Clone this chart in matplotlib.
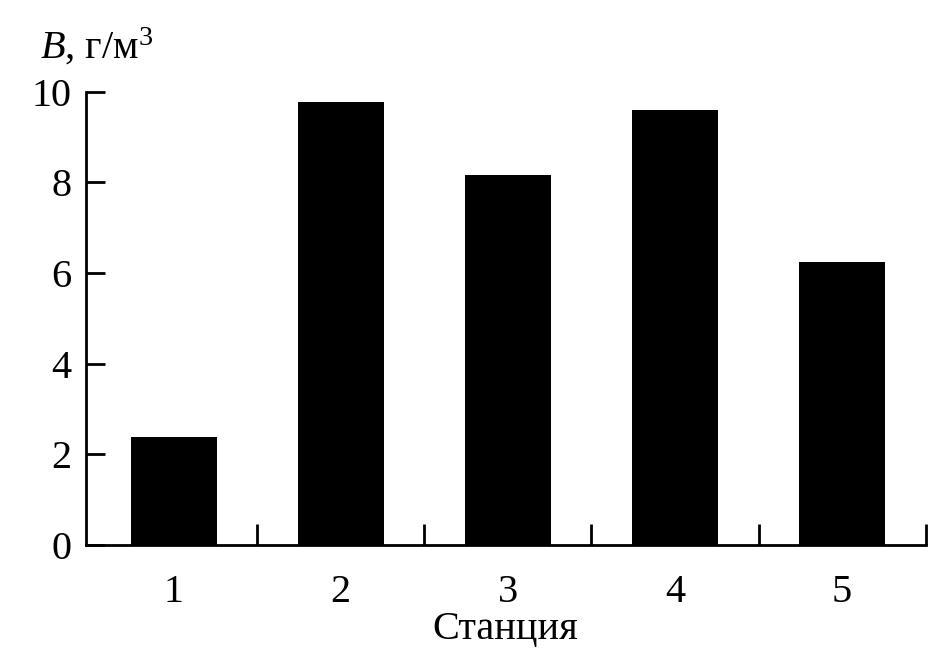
import numpy as np
import matplotlib
matplotlib.use("Agg")
import matplotlib.pyplot as plt

plt.rcParams['font.family'] = ['Liberation Serif', 'DejaVu Serif']
plt.rcParams['mathtext.fontset'] = 'custom'
plt.rcParams['mathtext.rm'] = 'Liberation Serif'
plt.rcParams['mathtext.it'] = 'Liberation Serif:italic'

# Data
stations = ["1", "2", "3", "4", "5"]
biomass = [2.38, 9.78, 8.17, 9.60, 6.25]

fig = plt.figure(figsize=(9.43, 6.56), dpi=100)
ax = fig.add_axes([0.0909, 0.169, 0.8908, 0.691])

x = np.arange(1, len(stations) + 1)
ax.bar(x, biomass, width=0.515, color="black")

ax.set_xlim(0.474, len(stations) + 0.5)
ax.set_ylim(0, 10)
ax.set_yticks([0, 2, 4, 6, 8, 10])
ax.set_xticks(x)
ax.set_xticklabels(stations)
ax.set_xticks(x + 0.5, minor=True)

for s in ["top", "right"]:
    ax.spines[s].set_visible(False)
for s in ["left", "bottom"]:
    ax.spines[s].set_linewidth(2)

ax.tick_params(axis="y", direction="in", length=14, width=2, labelsize=29, pad=10)
ax.tick_params(axis="x", which="major", length=0, labelsize=29, pad=21)
ax.tick_params(axis="x", which="minor", direction="in", length=15, width=2)

ax.set_xlabel("Станция", fontsize=29, labelpad=0)
fig.text(0.042, 0.928, r"$\mathit{B}$, г/м$^3$", fontsize=29, ha="left", va="center")

fig.savefig("out.png", dpi=100)
